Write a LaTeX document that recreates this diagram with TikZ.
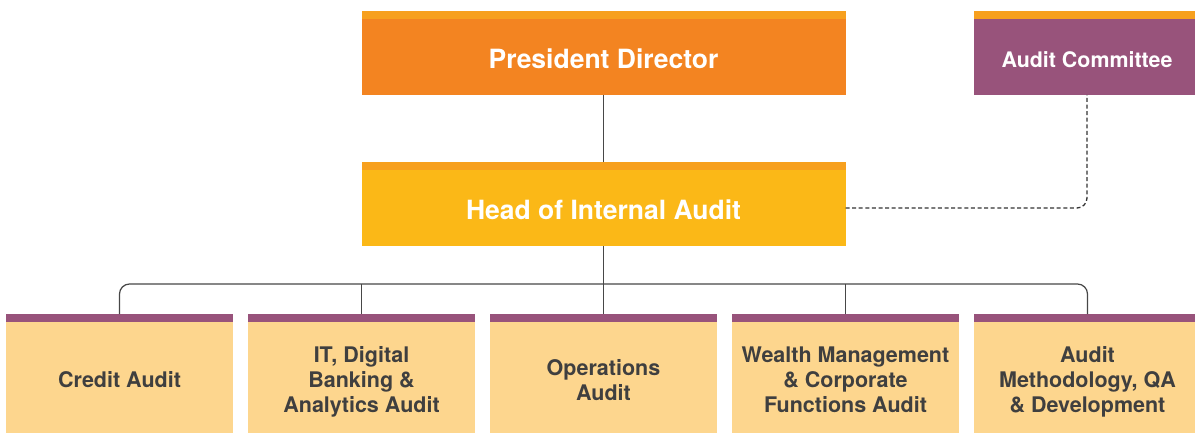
\documentclass[tikz,border=0pt]{standalone}
\usepackage{fontspec}
\setmainfont{TeX Gyre Heros}
\definecolor{stripeorange}{HTML}{F7A01E}
\definecolor{presbody}{HTML}{F38421}
\definecolor{headbody}{HTML}{FBB817}
\definecolor{auditpurple}{HTML}{98537B}
\definecolor{unitbody}{HTML}{FDD68E}
\definecolor{linegray}{HTML}{474747}
\definecolor{dashgray}{HTML}{333333}
\definecolor{textgray}{HTML}{3F3F3F}
\newcommand\lowtext[2]{\raisebox{-#1}[\height][\depth]{#2}}
\newcommand\unittext[1]{\raisebox{-5pt}[\height][\depth]{\begin{tabular}{@{}c@{}}#1\end{tabular}}}
\begin{document}
\begin{tikzpicture}[x=1pt,y=-1pt,
  box/.style={rectangle, inner sep=0pt, outer sep=0pt, font=\bfseries},
  topbox/.style={box, minimum width=484pt, minimum height=76pt, text=white,
    font=\fontsize{26.5}{30}\selectfont\bfseries,
    append after command={\pgfextra{\fill[stripeorange] (\tikzlastnode.north west) rectangle ([yshift=8pt]\tikzlastnode.north east);}}},
  combox/.style={box, fill=auditpurple, minimum width=226pt, minimum height=76pt, text=white,
    font=\fontsize{21.4}{25}\selectfont\bfseries,
    append after command={\pgfextra{\fill[stripeorange] (\tikzlastnode.north west) rectangle ([yshift=8pt]\tikzlastnode.north east);}}},
  unitbox/.style={box, fill=unitbody, minimum width=227pt, minimum height=111pt, text=textgray,
    font=\fontsize{21.5}{25}\selectfont\bfseries,
    append after command={\pgfextra{\fill[auditpurple] (\tikzlastnode.north west) rectangle ([yshift=8pt]\tikzlastnode.north east);}}},
  conn/.style={draw=linegray, line width=1.2pt},
  dashconn/.style={draw=dashgray, line width=1.3pt, dash pattern=on 4pt off 2.6pt, rounded corners=10pt}
]
\useasboundingbox (0,0) rectangle (1195,433);
\clip (0,0) rectangle (1195,433);

\node[topbox, fill=presbody] (pd) at (603.5,57) {\lowtext{2pt}{President Director}};
\node[topbox, fill=headbody] (head) at (603.5,208) {\lowtext{2pt}{Head of Internal Audit}};
\node[combox] (ac) at (1087,57) {\lowtext{2.5pt}{Audit Committee}};

\node[unitbox] (u1) at (119.5,377.5) {\unittext{Credit Audit}};
\node[unitbox] (u2) at (361.5,377.5) {\unittext{IT, Digital\\Banking \&\\Analytics Audit}};
\node[unitbox] (u3) at (603.5,377.5) {\unittext{Operations\\Audit}};
\node[unitbox] (u4) at (845.5,377.5) {\unittext{Wealth Management\\\& Corporate\\Functions Audit}};
\node[unitbox] (u5) at (1087.5,377.5) {\unittext{Audit\\Methodology, QA\\\& Development}};

\coordinate (bus) at (603.5,284);

\draw[conn] (pd.south) -- ([yshift=8pt]head.north);
\draw[conn] (head.south) -- ([yshift=8pt]u3.north);
\draw[conn, rounded corners=10pt] ([yshift=8pt]u1.north) |- (bus) -| ([yshift=8pt]u5.north);
\draw[conn] ([yshift=8pt]u2.north) -- (u2.north |- bus);
\draw[conn] ([yshift=8pt]u4.north) -- (u4.north |- bus);
\draw[dashconn] (head.east) -| (ac.south);
\end{tikzpicture}
\end{document}
